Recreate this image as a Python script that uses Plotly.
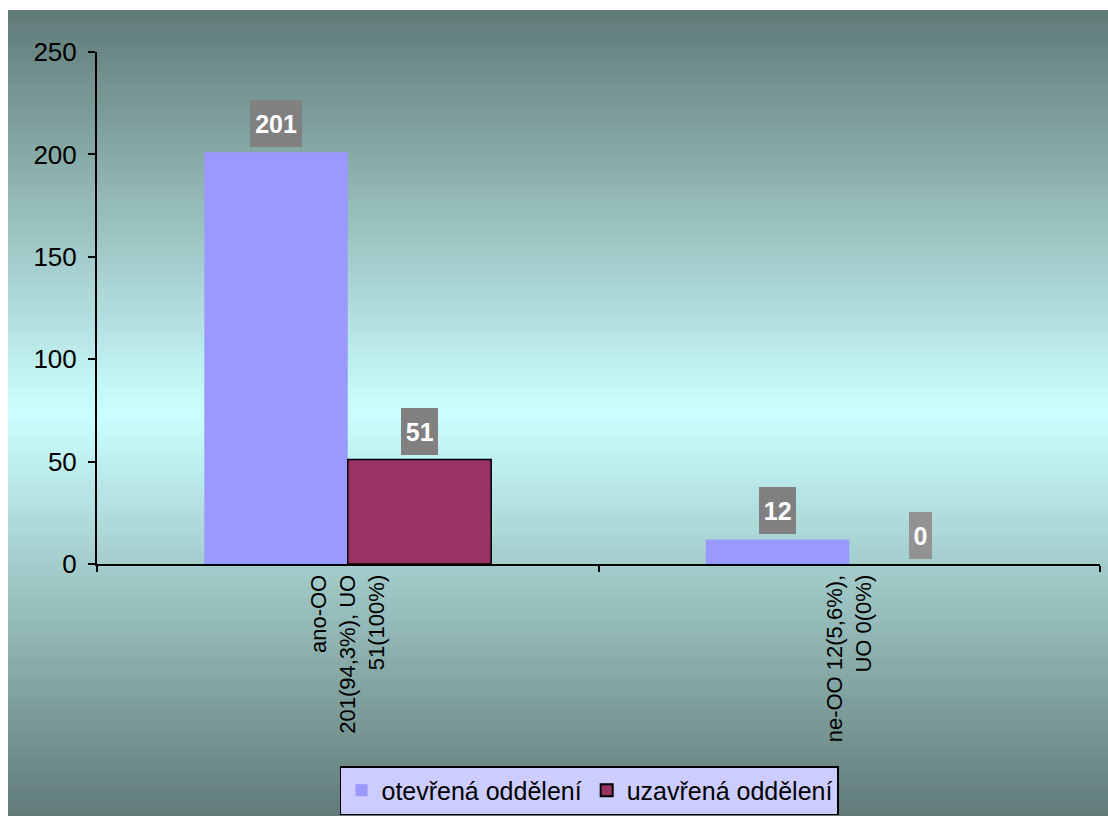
import plotly.graph_objects as go

categories = ["ano-OO<br>201(94,3%), UO<br>51(100%)", "ne-OO 12(5,6%),<br>UO 0(0%)"]
series_names = ["otevřená oddělení", "uzavřená oddělení"]
open_values = [201, 12]
closed_values = [51, 0]

W, H = 1108, 816
L, R, T, B = 97, 8, 52, 252
pw, ph = W - L - R, H - T - B
BARGAP = 0.428
FONT = "Liberation Sans, Arial"

def px_to_paper_x(px):
    return (px - L) / pw

def py_to_paper_y(py):
    return (H - B - py) / ph

fig = go.Figure()
fig.add_trace(go.Bar(name=series_names[0], x=categories, y=open_values,
                     marker=dict(color="#9999FF", line=dict(width=0))))
fig.add_trace(go.Bar(name=series_names[1], x=categories, y=closed_values,
                     marker=dict(color="#993366",
                                 line=dict(width=[1.5 if v else 0 for v in closed_values], color="black"))))

# gradient background (dark slate -> light cyan -> dark slate)
top_c = (96, 122, 120)
mid_c = (204, 255, 255)
y0, y1 = 10, 816
mid = (y0 + y1) / 2
shapes = []
step = 4
y = y0
while y < y1:
    yc = y + step / 2
    t = abs(yc - mid) / (mid - y0)
    c = tuple(round(mid_c[i] + (top_c[i] - mid_c[i]) * t) for i in range(3))
    shapes.append(dict(type="rect", xref="paper", yref="paper", layer="below",
                       x0=px_to_paper_x(8), x1=px_to_paper_x(W + 2),
                       y0=py_to_paper_y(min(y + step + 0.5, y1 + 2)), y1=py_to_paper_y(y),
                       fillcolor="rgb(%d,%d,%d)" % c, line=dict(width=0)))
    y += step

# data labels with grey boxes
bar_w = pw / len(categories) * (1 - BARGAP) / 2
annotations = []
for si, vals in enumerate([open_values, closed_values]):
    for ci, v in enumerate(vals):
        txt = str(v)
        annotations.append(dict(
            x=categories[ci], y=v, xref="x", yref="y", text=txt, showarrow=False,
            xshift=(-bar_w / 2 if si == 0 else bar_w / 2), yshift=5, yanchor="bottom",
            font=dict(family=FONT, size=25, color="white", weight="bold"),
            bgcolor="#939393" if v == 0 else "#808080",
            width=8 + 14.7 * len(txt), height=47, borderpad=0, borderwidth=0))

fig.update_layout(
    width=W, height=H,
    margin=dict(l=L, r=R, t=T, b=B, pad=0, autoexpand=False),
    paper_bgcolor="white",
    plot_bgcolor="rgba(0,0,0,0)",
    barmode="group", bargap=BARGAP, bargroupgap=0,
    shapes=shapes,
    annotations=annotations,
    font=dict(family=FONT, color="black"),
    showlegend=True,
    legend=dict(orientation="h", x=0.491, xanchor="center", y=py_to_paper_y(766), yanchor="top",
                bgcolor="#CCCCFF", bordercolor="black", borderwidth=1.5,
                font=dict(size=25, color="black"), itemsizing="constant",
                itemwidth=30, tracegroupgap=0),
    xaxis=dict(type="category", showline=True, linecolor="black", linewidth=2,
               ticks="outside", tickson="boundaries", ticklen=6, tickwidth=2, tickcolor="black",
               tickangle=-90, tickfont=dict(size=22), showgrid=False, zeroline=False,
               automargin=False),
    yaxis=dict(range=[0, 250], dtick=50, showline=True, linecolor="black", linewidth=2,
               ticks="outside", ticklen=7, tickwidth=2, tickcolor="black",
               ticklabelstandoff=6, automargin=False,
               tickfont=dict(size=26), showgrid=False, zeroline=False),
)

fig.write_html("out.html")
